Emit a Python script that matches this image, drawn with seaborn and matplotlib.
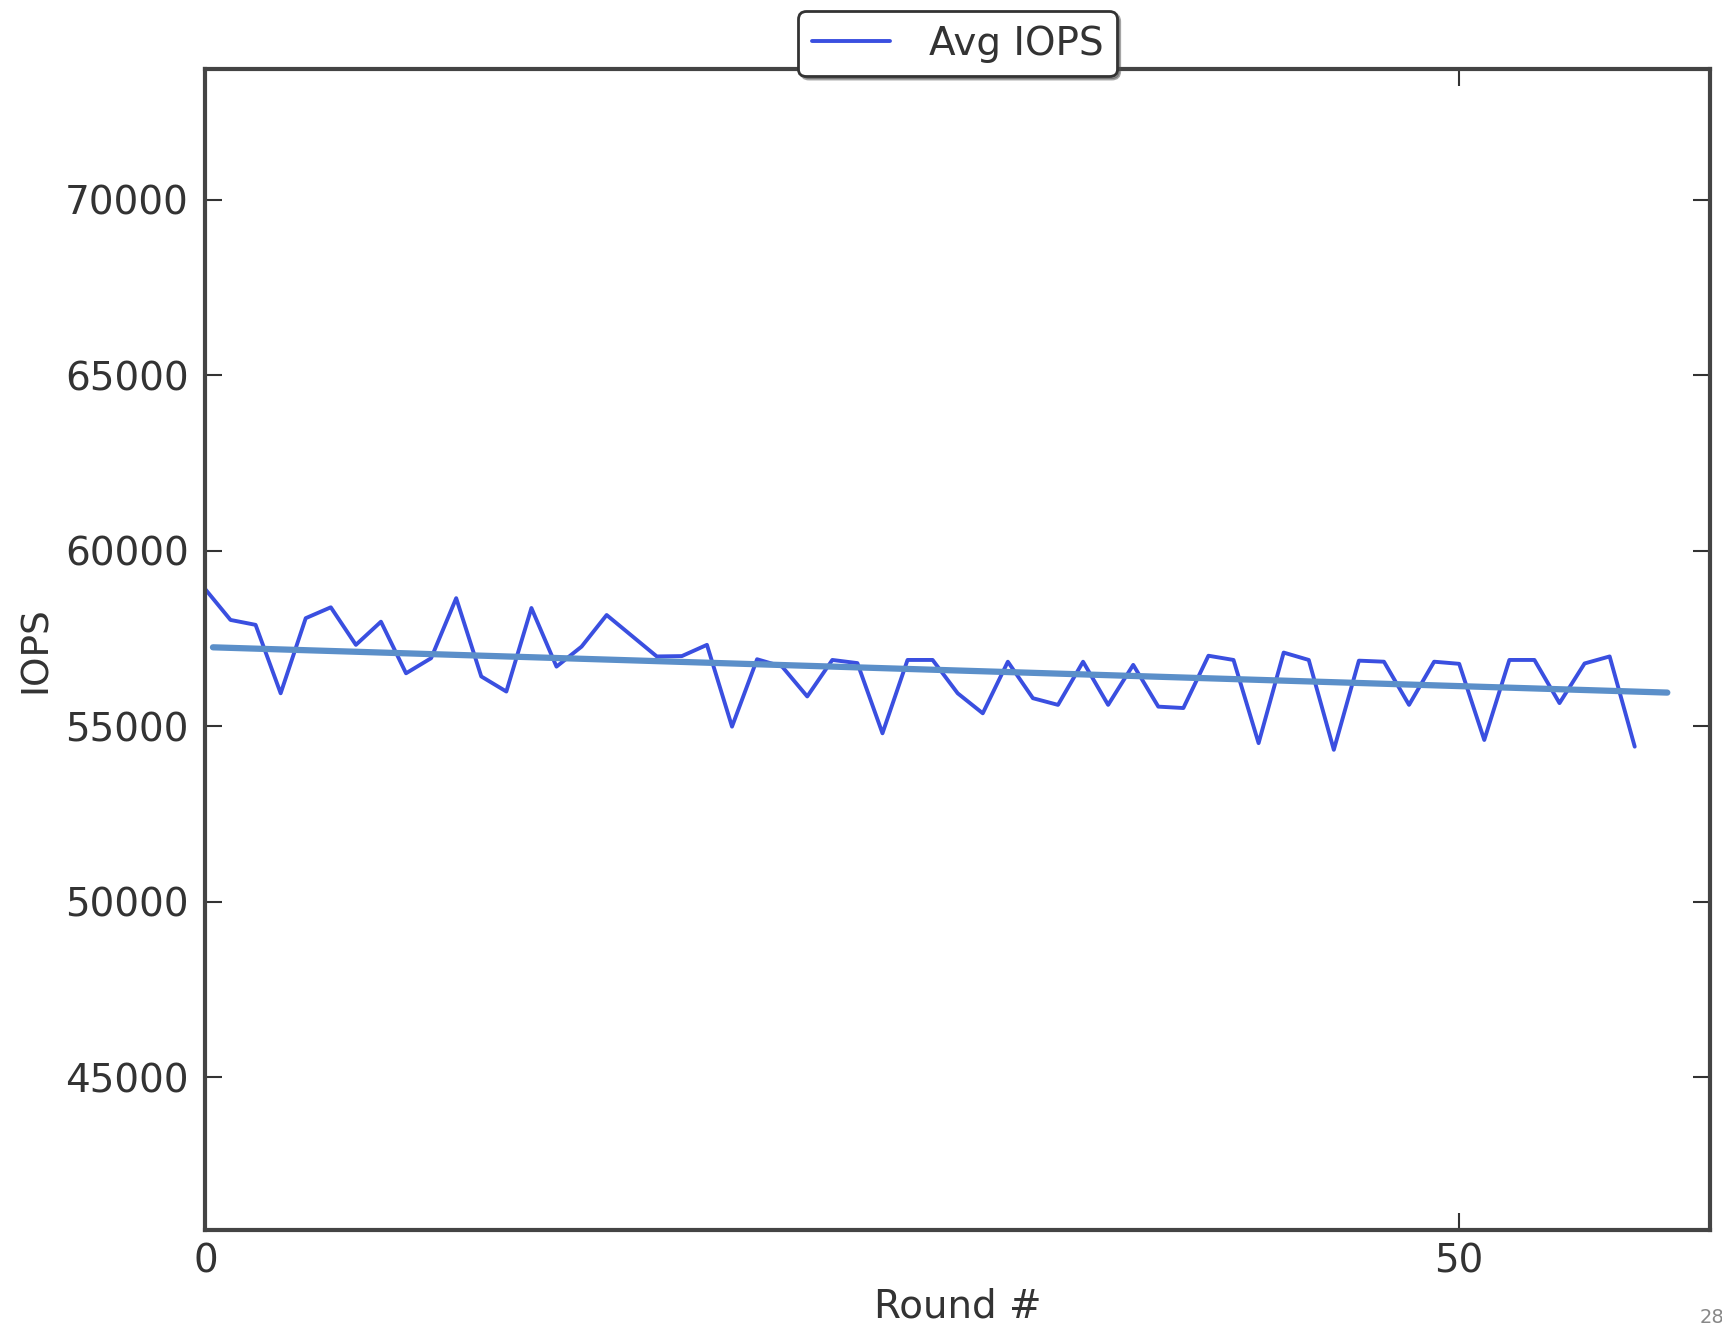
import numpy as np
import pandas as pd
import matplotlib
matplotlib.use("Agg")
import matplotlib.pyplot as plt
import seaborn as sns

# Average IOPS per round
rounds = list(range(58))
avg_iops = [
    58900, 58030, 57890, 55940, 58080, 58390, 57320, 57980, 56510, 56940,
    58650, 56420, 55990, 58370, 56700, 57270, 58170, 57580, 56990, 57000,
    57320, 54990, 56910, 56700, 55850, 56890, 56800, 54800, 56890, 56890,
    55940, 55370, 56840, 55800, 55610, 56840, 55610, 56750, 55560, 55520,
    57010, 56890, 54520, 57100, 56890, 54330, 56870, 56840, 55610, 56840,
    56780, 54610, 56890, 56890, 55660, 56790, 56990, 54420,
]

# Linear trend overlay (start/end)
trend_rounds = [0.3, 58.3]
trend_iops = [57250, 55960]

x_ticks = [0, 50]
y_ticks = [45000, 50000, 55000, 60000, 65000, 70000]

sns.set_style("ticks")
plt.rcParams["font.family"] = ["DejaVu Sans"]

fig = plt.figure(figsize=(17.22, 13.31), dpi=100)
ax = fig.add_axes([0.1193, 0.0759, 0.8737, 0.8721])

df = pd.DataFrame({"Round": rounds, "IOPS": avg_iops})
trend_df = pd.DataFrame({"Round": trend_rounds, "IOPS": trend_iops})

sns.lineplot(data=df, x="Round", y="IOPS", ax=ax, color="#3a4fe0",
             linewidth=2.8, label="Avg IOPS")
sns.lineplot(data=trend_df, x="Round", y="IOPS", ax=ax, color="#5b8fc9",
             linewidth=4.5, legend=False)

ax.set_xlim(0, 60)
ax.set_ylim(40650, 73720)
ax.set_xticks(x_ticks)
ax.set_yticks(y_ticks)
ax.tick_params(direction="in", top=True, right=True, length=12, width=1.5,
               labelsize=28, colors="#333333", pad=12)
ax.tick_params(axis="x", pad=9)
for s in ax.spines.values():
    s.set_linewidth(3)
    s.set_color("#444444")

ax.set_xlabel("Round #", fontsize=28, color="#333333", labelpad=5)
ax.set_ylabel("IOPS", fontsize=27, color="#333333", labelpad=8)

leg = ax.legend(loc="center", bbox_to_anchor=(0.5, 1.022), fontsize=28,
                frameon=True, fancybox=True, shadow=True, handlelength=2.0,
                borderpad=0.35, handletextpad=1.0)
leg.get_frame().set_edgecolor("#333333")
leg.get_frame().set_linewidth(2)
for t in leg.get_texts():
    t.set_color("#333333")

fig.text(0.987, 0.003, "28", fontsize=14, color="#888888", ha="left", va="bottom")

fig.savefig("out.png", dpi=100)
